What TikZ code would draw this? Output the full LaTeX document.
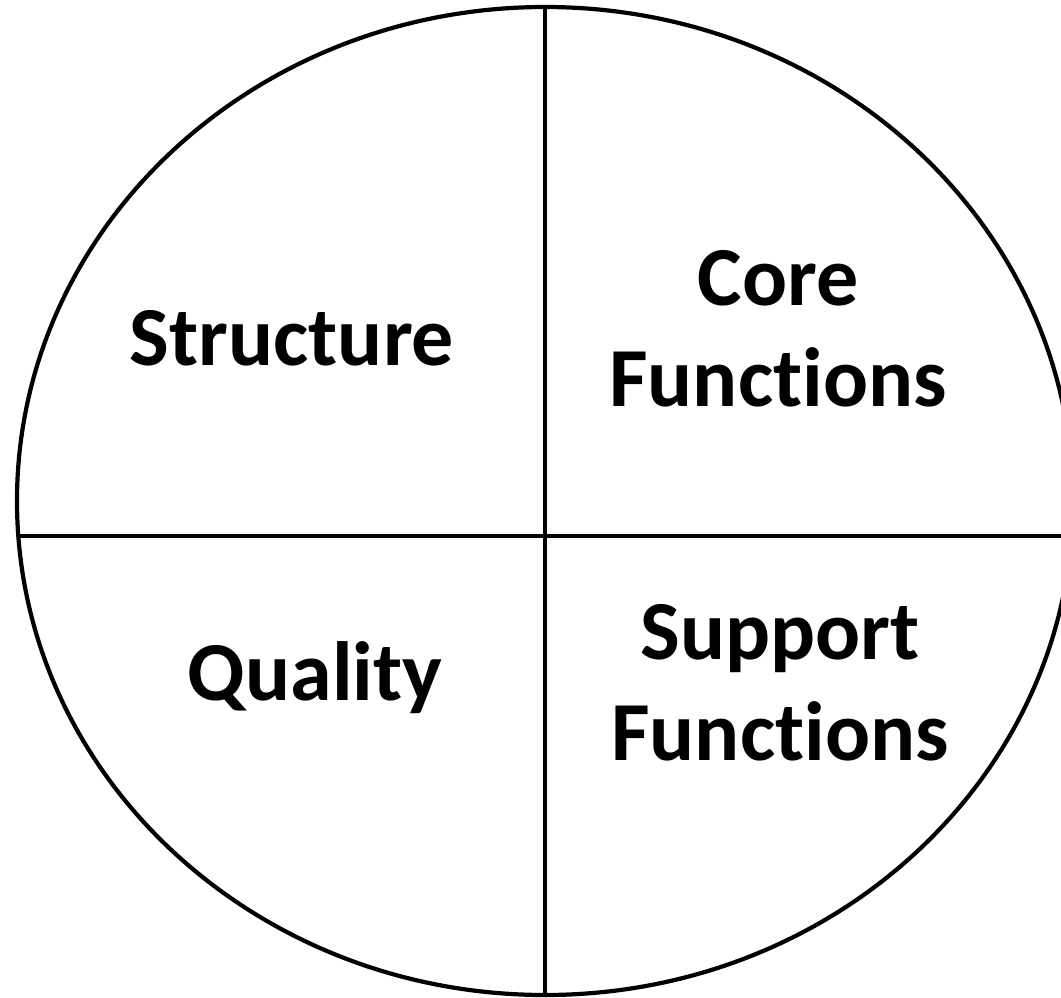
\documentclass[tikz,border=0pt]{standalone}
\usepackage{fontspec}
\setmainfont{Carlito}[Ligatures={NoCommon}]
\begin{document}
\begin{tikzpicture}[x=1pt,y=-1pt,
  outline/.style={line width=4.2pt, draw=black},
  lbl/.style={font=\fontsize{84}{101}\selectfont\bfseries, align=center, inner sep=0pt}]
\useasboundingbox (0,0) rectangle (1061,998);
\clip (0,0) rectangle (1061,998);
\coordinate (c) at (545,501);
\coordinate (top) at (545,7);
\coordinate (bot) at (545,995);
\coordinate (lft) at (17.5,536);
\coordinate (rgt) at (1070,536);
\draw[outline] (c) ellipse [x radius=528, y radius=494];
\draw[outline] (top) -- (bot);
\draw[outline] (lft) -- (rgt);
\node[lbl, anchor=base] (structure) at (292,365) {Structure};
\node[lbl, anchor=base] (quality) at (315,700) {Quality};
\node[lbl, anchor=north] (core) at (778,250) {Core\\Functions};
\node[lbl, anchor=north] (support) at (780,604) {Support\\Functions};
\end{tikzpicture}
\end{document}
